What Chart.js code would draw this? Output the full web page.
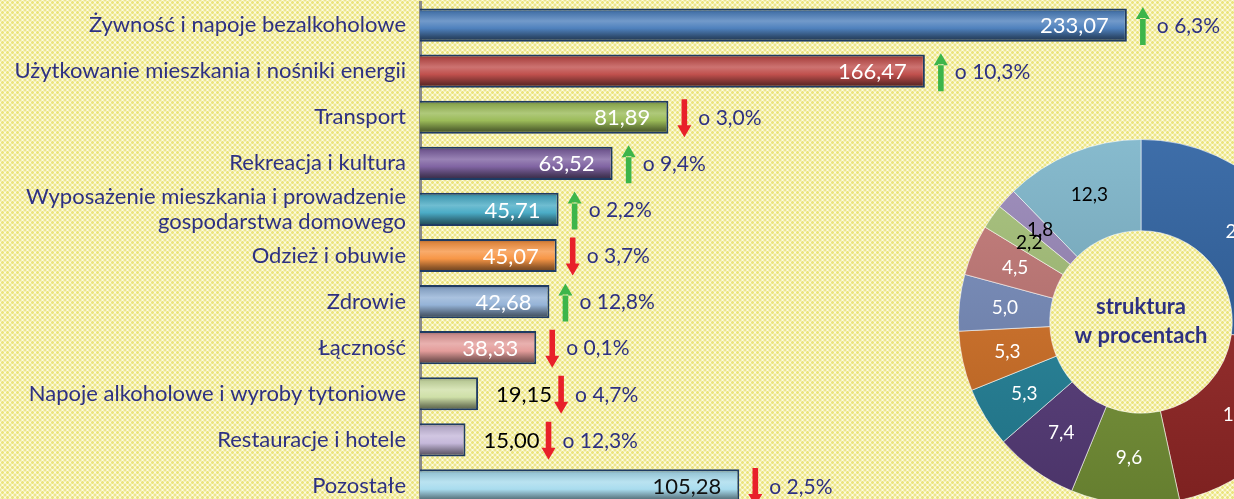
<!DOCTYPE html>
<html>
<head>
<meta charset="utf-8">
<script src="https://cdn.jsdelivr.net/npm/chart.js@4.4.1/dist/chart.umd.min.js"></script>
<style>
  html, body { margin: 0; padding: 0; }
  body {
    width: 1234px; height: 499px; overflow: hidden; position: relative;
    background-color: #fdfbe2;
    background-image:
      radial-gradient(circle, #ebe47e 1.1px, rgba(0,0,0,0) 1.7px),
      radial-gradient(circle, #ebe47e 1.1px, rgba(0,0,0,0) 1.7px);
    background-size: 5px 5px, 5px 5px;
    background-position: 0 0, 2.5px 2.5px;
  }
  #bars { position: absolute; left: 0; top: 0; }
  #donut { position: absolute; left: 958px; top: 139px; }
</style>
</head>
<body>
<canvas id="bars" width="1234" height="509" style="width:1234px;height:509px"></canvas>
<canvas id="donut" width="366" height="366" style="width:366px;height:366px"></canvas>
<script>
// ---- data ----
const categories = [
  'Żywność i napoje bezalkoholowe',
  'Użytkowanie mieszkania i nośniki energii',
  'Transport',
  'Rekreacja i kultura',
  ['Wyposażenie mieszkania i prowadzenie', 'gospodarstwa domowego'],
  'Odzież i obuwie',
  'Zdrowie',
  'Łączność',
  'Napoje alkoholowe i wyroby tytoniowe',
  'Restauracje i hotele',
  'Pozostałe'
];
const values = [233.07, 166.47, 81.89, 63.52, 45.71, 45.07, 42.68, 38.33, 19.15, 15.00, 105.28];
const changes = [6.3, 10.3, 3.0, 9.4, 2.2, 3.7, 12.8, 0.1, 4.7, 12.3, 2.5];
const directions = ['up', 'up', 'down', 'up', 'up', 'down', 'up', 'down', 'down', 'down', 'down'];
const shares = [27.2, 19.4, 9.6, 7.4, 5.3, 5.3, 5.0, 4.5, 2.2, 1.8, 12.3];
const centerText = ['struktura', 'w procentach'];

// ---- styles ----
const barColors = ['#4F81BD', '#C0504D', '#9BBB59', '#8064A2', '#4BACC6', '#F79646',
                   '#95B3D7', '#E39D9B', '#CFE0A8', '#C5B8DA', '#A9DCEE'];
const valueLabelColors = ['#fff', '#fff', '#fff', '#fff', '#fff', '#fff', '#fff', '#fff', '#000', '#000', '#111'];
const donutColors = ['#2D61A2', '#A02A29', '#82A13C', '#5F4285', '#268DA6', '#DE7728',
                     '#7A90C1', '#C57977', '#A7C379', '#9A88BA', '#7DB5CA'];
const donutLabelColors = ['#fff', '#fff', '#fff', '#fff', '#fff', '#fff', '#fff', '#fff', '#000', '#000', '#000'];
const navy = '#2E3182';
const FONT = 'Lato, "Open Sans", sans-serif';

function shade(hex, amt) {
  const n = parseInt(hex.slice(1), 16);
  let r = (n >> 16) & 255, g = (n >> 8) & 255, b = n & 255;
  if (amt >= 0) { r += (255 - r) * amt; g += (255 - g) * amt; b += (255 - b) * amt; }
  else { r *= (1 + amt); g *= (1 + amt); b *= (1 + amt); }
  return 'rgb(' + Math.round(r) + ',' + Math.round(g) + ',' + Math.round(b) + ')';
}
const fmt = v => v.toFixed(2).replace('.', ',');
const fmt1 = v => v.toFixed(1).replace('.', ',');

const BAR_PCT = 0.72;

function barGradient(ctx) {
  const chart = ctx.chart;
  const base = barColors[ctx.dataIndex] || '#888';
  const ys = chart.scales && chart.scales.y;
  if (ctx.type !== 'data' || !ys || !chart.chartArea) return base;
  const yc = ys.getPixelForValue(ctx.dataIndex);
  const half = (chart.chartArea.height / categories.length) * BAR_PCT / 2;
  const g = chart.ctx.createLinearGradient(0, yc - half, 0, yc + half);
  g.addColorStop(0, shade(base, -0.35));
  g.addColorStop(0.12, shade(base, -0.1));
  g.addColorStop(0.38, shade(base, 0.2));
  g.addColorStop(0.6, base);
  g.addColorStop(0.85, shade(base, -0.4));
  g.addColorStop(1, shade(base, -0.6));
  return g;
}

const barDecor = {
  id: 'barDecor',
  afterDatasetsDraw(chart) {
    const c = chart.ctx;
    const meta = chart.getDatasetMeta(0);
    meta.data.forEach((bar, i) => {
      const x = bar.x, y = bar.y;
      c.save();
      c.font = '22px ' + FONT;
      c.textBaseline = 'middle';
      let ax;
      if (values[i] >= 30) {
        c.fillStyle = valueLabelColors[i];
        c.textAlign = 'right';
        c.fillText(fmt(values[i]), x - 18, y + 1);
        ax = x + 16;
      } else {
        c.fillStyle = valueLabelColors[i];
        c.textAlign = 'left';
        const lx = x + 18;
        c.fillText(fmt(values[i]), lx, y + 1);
        ax = lx + c.measureText(fmt(values[i])).width + 9;
      }
      // arrow
      const up = directions[i] === 'up';
      c.fillStyle = up ? '#3DB54A' : '#E8202A';
      c.beginPath();
      if (up) {
        c.rect(ax - 2.8, y - 7, 5.6, 27);
        c.moveTo(ax - 7, y - 6); c.lineTo(ax + 7, y - 6); c.lineTo(ax, y - 18); c.closePath();
      } else {
        c.rect(ax - 2.8, y - 18, 5.6, 27);
        c.moveTo(ax - 7, y + 8); c.lineTo(ax + 7, y + 8); c.lineTo(ax, y + 20); c.closePath();
      }
      c.fill();
      // change text
      c.fillStyle = navy;
      c.font = '21px ' + FONT;
      c.textAlign = 'left';
      c.fillText('o ' + fmt1(changes[i]) + '%', ax + 14, y + 1);
      c.restore();
    });
  }
};

new Chart(document.getElementById('bars'), {
  type: 'bar',
  data: {
    labels: categories,
    datasets: [{
      data: values,
      backgroundColor: barGradient,
      borderColor: '#1F3B63',
      borderWidth: 2,
      borderSkipped: 'start',
      barPercentage: BAR_PCT,
      categoryPercentage: 1
    }]
  },
  options: {
    indexAxis: 'y',
    responsive: false,
    animation: false,
    layout: { padding: { top: 2, left: 0, right: 0, bottom: 0 } },
    plugins: { legend: { display: false }, tooltip: { enabled: false } },
    scales: {
      x: { display: false, min: 0, max: 268.4 },
      y: {
        grid: { display: false, drawTicks: false },
        border: { display: true, color: '#8a8a8a', width: 3 },
        ticks: { color: navy, font: { family: FONT, size: 22, lineHeight: 1.1 }, padding: 14, autoSkip: false },
        afterFit: s => { s.width = 420; s.paddingTop = 0; s.paddingBottom = 0; }
      }
    }
  },
  plugins: [barDecor]
});

function donutGradient(ctx) {
  const chart = ctx.chart;
  const base = donutColors[ctx.dataIndex] || '#888';
  if (ctx.type !== 'data' || !chart.chartArea) return base;
  const a = chart.chartArea;
  const g = chart.ctx.createLinearGradient(0, a.top, 0, a.bottom);
  g.addColorStop(0, shade(base, 0.08));
  g.addColorStop(1, shade(base, -0.22));
  return g;
}

const donutDecor = {
  id: 'donutDecor',
  afterDatasetsDraw(chart) {
    const c = chart.ctx;
    const meta = chart.getDatasetMeta(0);
    c.save();
    c.textAlign = 'center';
    c.textBaseline = 'middle';
    c.font = '19px ' + FONT;
    meta.data.forEach((arc, i) => {
      const p = arc.tooltipPosition();
      c.fillStyle = donutLabelColors[i];
      c.fillText(fmt1(shares[i]), p.x, p.y);
    });
    const cx = meta.data[0].x, cy = meta.data[0].y;
    c.fillStyle = navy;
    c.font = 'bold 22px ' + FONT;
    c.fillText(centerText[0], cx, cy - 15);
    c.fillText(centerText[1], cx, cy + 14);
    c.restore();
  }
};

new Chart(document.getElementById('donut'), {
  type: 'doughnut',
  data: {
    labels: categories.map(l => Array.isArray(l) ? l.join(' ') : l),
    datasets: [{
      data: shares,
      backgroundColor: donutGradient,
      borderColor: 'rgba(255,255,255,0.55)',
      borderWidth: 1
    }]
  },
  options: {
    responsive: false,
    animation: false,
    cutout: '50%',
    layout: { padding: 0 },
    plugins: { legend: { display: false }, tooltip: { enabled: false } }
  },
  plugins: [donutDecor]
});
</script>
</body>
</html>
